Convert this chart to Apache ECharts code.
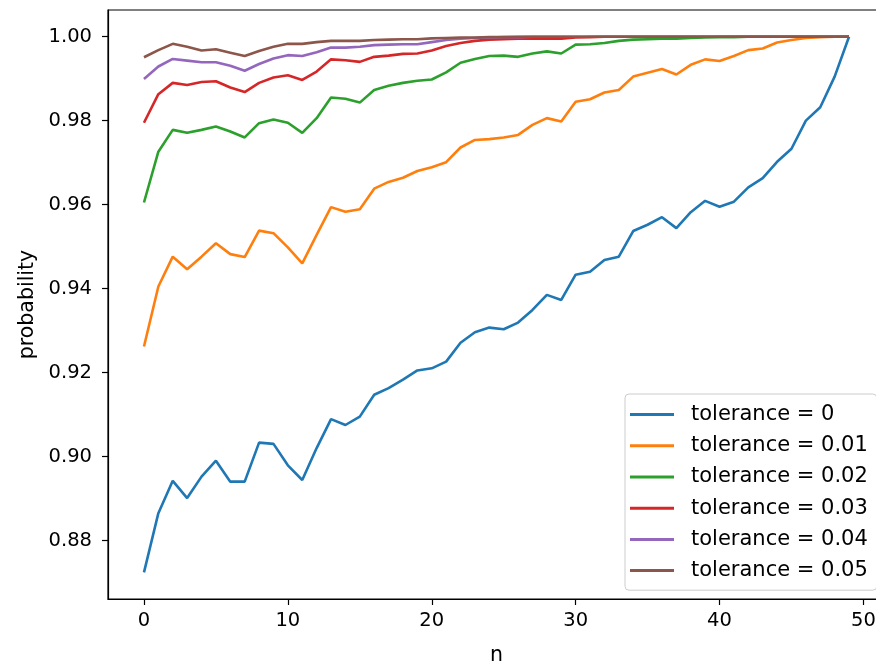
<!DOCTYPE html>
<html>
<head>
<meta charset="utf-8">
<script src="https://cdn.jsdelivr.net/npm/echarts@6/dist/echarts.min.js"></script>
<style>
html,body{margin:0;padding:0;background:#fff;}
#c{width:876px;height:661px;}
</style>
</head>
<body>
<div id="c"></div>
<script>
var n = [0,1,2,3,4,5,6,7,8,9,10,11,12,13,14,15,16,17,18,19,20,21,22,23,24,25,26,27,28,29,30,31,32,33,34,35,36,37,38,39,40,41,42,43,44,45,46,47,48,49];

var tol0 = [0.8724,0.8865,0.8942,0.8901,0.8952,0.8990,0.8940,0.8940,0.9033,0.9030,
            0.8979,0.8944,0.9020,0.9089,0.9075,0.9095,0.9147,0.9163,0.9183,0.9205,
            0.9210,0.9226,0.9271,0.9296,0.9307,0.9303,0.9319,0.9349,0.9385,0.9373,
            0.9433,0.9440,0.9468,0.9476,0.9537,0.9552,0.9570,0.9544,0.9582,0.9609,
            0.9595,0.9607,0.9641,0.9663,0.9702,0.9733,0.9800,0.9832,0.9905,1.0000];

var tol1 = [0.9262,0.9405,0.9476,0.9446,0.9476,0.9508,0.9482,0.9475,0.9538,0.9532,
            0.9498,0.9460,0.9528,0.9594,0.9583,0.9589,0.9638,0.9654,0.9664,0.9680,
            0.9689,0.9701,0.9736,0.9754,0.9756,0.9760,0.9766,0.9790,0.9806,0.9798,
            0.9845,0.9851,0.9867,0.9873,0.9905,0.9914,0.9923,0.9910,0.9933,0.9946,
            0.9942,0.9954,0.9968,0.9972,0.9986,0.9992,0.9997,0.9999,1.0000,1.0000];

var tol2 = [0.9605,0.9726,0.9778,0.9771,0.9778,0.9786,0.9774,0.9760,0.9794,0.9803,
            0.9795,0.9771,0.9806,0.9855,0.9852,0.9843,0.9873,0.9883,0.9890,0.9895,
            0.9898,0.9915,0.9938,0.9947,0.9954,0.9955,0.9952,0.9960,0.9965,0.9960,
            0.9981,0.9982,0.9985,0.9990,0.9993,0.9994,0.9995,0.9995,0.9997,0.9998,
            0.9999,0.9999,1.0000,1.0000,1.0000,1.0000,1.0000,1.0000,1.0000,1.0000];

var tol3 = [0.9795,0.9863,0.9890,0.9885,0.9892,0.9894,0.9879,0.9868,0.9890,0.9903,
            0.9908,0.9897,0.9917,0.9946,0.9944,0.9940,0.9952,0.9955,0.9959,0.9960,
            0.9967,0.9978,0.9985,0.9990,0.9993,0.9994,0.9995,0.9995,0.9995,0.9995,
            0.9998,0.9999,1.0000,1.0000,1.0000,1.0000,1.0000,1.0000,1.0000,1.0000,
            1.0000,1.0000,1.0000,1.0000,1.0000,1.0000,1.0000,1.0000,1.0000,1.0000];

var tol4 = [0.9899,0.9929,0.9947,0.9943,0.9939,0.9939,0.9931,0.9919,0.9935,0.9948,
            0.9956,0.9954,0.9963,0.9974,0.9974,0.9976,0.9980,0.9981,0.9982,0.9982,
            0.9987,0.9992,0.9995,0.9997,0.9998,0.9999,0.9999,1.0000,1.0000,1.0000,
            1.0000,1.0000,1.0000,1.0000,1.0000,1.0000,1.0000,1.0000,1.0000,1.0000,
            1.0000,1.0000,1.0000,1.0000,1.0000,1.0000,1.0000,1.0000,1.0000,1.0000];

var tol5 = [0.9951,0.9968,0.9983,0.9976,0.9967,0.9970,0.9962,0.9954,0.9966,0.9976,
            0.9983,0.9983,0.9987,0.9990,0.9990,0.9990,0.9992,0.9993,0.9994,0.9994,
            0.9996,0.9997,0.9998,0.9998,0.9999,0.9999,1.0000,1.0000,1.0000,1.0000,
            1.0000,1.0000,1.0000,1.0000,1.0000,1.0000,1.0000,1.0000,1.0000,1.0000,
            1.0000,1.0000,1.0000,1.0000,1.0000,1.0000,1.0000,1.0000,1.0000,1.0000];

var seriesNames = ['tolerance = 0','tolerance = 0.01','tolerance = 0.02','tolerance = 0.03','tolerance = 0.04','tolerance = 0.05'];
var seriesValues = [tol0, tol1, tol2, tol3, tol4, tol5];
var colors = ['#1f77b4','#ff7f0e','#2ca02c','#d62728','#9467bd','#8c564b'];
var xTicks = [0,10,20,30,40,50];
var yTicks = [0.88,0.90,0.92,0.94,0.96,0.98,1.00];

var FONT = 'DejaVu Sans';

var series = seriesNames.map(function(name, k){
  return {
    name: name,
    type: 'line',
    data: n.map(function(x, i){ return [x, seriesValues[k][i]]; }),
    showSymbol: false,
    symbol: 'none',
    lineStyle: {width: 2.6, color: colors[k]},
    itemStyle: {color: colors[k]},
    z: 2 + k,
    animation: false
  };
});

var chart = echarts.init(document.getElementById('c'), null, {renderer: 'canvas'});
chart.setOption({
  animation: false,
  color: colors,
  textStyle: {fontFamily: FONT},
  grid: {left: 108, top: 10, width: 777, height: 589, outerBoundsMode: 'none', containLabel: false,
         show: true, borderColor: '#000', borderWidth: 1.2, backgroundColor: 'transparent'},
  xAxis: {
    type: 'value',
    min: -2.5, max: 51.5,
    name: 'n',
    nameLocation: 'middle',
    nameGap: 46,
    nameTextStyle: {fontFamily: FONT, fontSize: 20.5, color: '#000'},
    axisLine: {show: true, onZero: false, lineStyle: {color: '#000', width: 1.2}},
    axisTick: {show: true, inside: false, length: 6, lineStyle: {color: '#000', width: 1.2}, customValues: xTicks},
    axisLabel: {show: true, margin: 12, fontFamily: FONT, fontSize: 19.5, color: '#000', customValues: xTicks, showMinLabel: true, showMaxLabel: true},
    splitLine: {show: false}
  },
  yAxis: {
    type: 'value',
    min: 0.86605, max: 1.00636,
    name: 'probability',
    nameLocation: 'middle',
    nameGap: 66,
    nameRotate: 90,
    nameTextStyle: {fontFamily: FONT, fontSize: 20.5, color: '#000'},
    axisLine: {show: true, onZero: false, lineStyle: {color: '#000', width: 1.2}},
    axisTick: {show: true, inside: false, length: 6, lineStyle: {color: '#000', width: 1.2}, customValues: yTicks},
    axisLabel: {show: true, margin: 16, fontFamily: FONT, fontSize: 19.5, color: '#000', customValues: yTicks,
      formatter: function(v){ return v.toFixed(2); }},
    splitLine: {show: false}
  },
  legend: {
    orient: 'vertical',
    left: 625, top: 394,
    padding: [9, 9, 8, 5],
    itemGap: 8,
    itemWidth: 44,
    itemHeight: 3,
    icon: 'rect',
    backgroundColor: 'rgba(255,255,255,0.85)',
    borderColor: '#cccccc',
    borderWidth: 1,
    borderRadius: 4,
    textStyle: {fontFamily: FONT, fontSize: 21, color: '#000', lineHeight: 23.2, padding: [0,0,0,12]},
    data: seriesNames
  },
  series: series
});
</script>
</body>
</html>
